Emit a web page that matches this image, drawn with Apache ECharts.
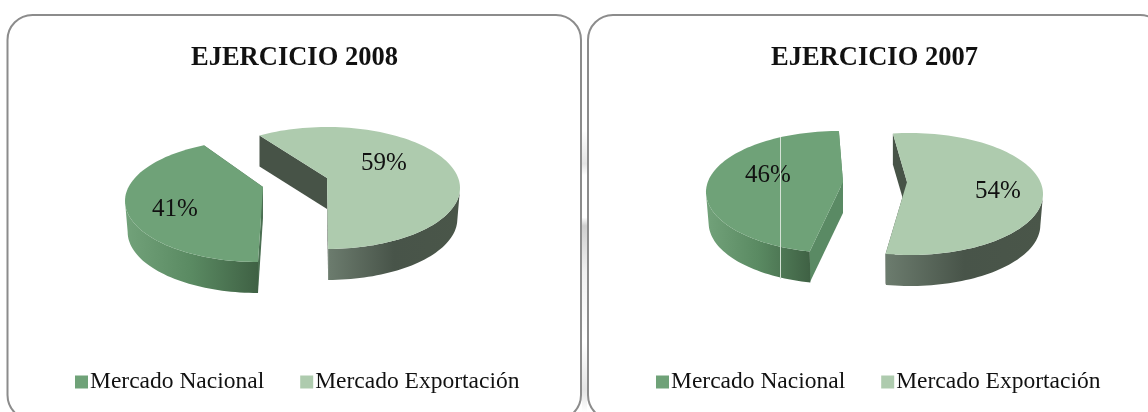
<!DOCTYPE html>
<html>
<head>
<meta charset="utf-8">
<style>
  html, body { margin: 0; padding: 0; background: #fff; }
  #chart { width: 1148px; height: 412px; }
</style>
<script src="https://cdn.jsdelivr.net/npm/echarts@6/dist/echarts.min.js"></script>
</head>
<body>
<div id="chart"></div>
<script>
// datos
var seriesNames = ["Mercado Nacional", "Mercado Exportación"];
var titles = ["EJERCICIO 2008", "EJERCICIO 2007"];
var shares2008 = [41, 59];
var shares2007 = [46, 54];

var serifFont = '"Liberation Serif", serif';
var topColors = ["#6fa278", "#aecbae"];

// geometria de cada porcion: elipse, vertice del corte, angulo inicial, ajuste de perspectiva
var sliceLayouts = [
  { cx: 258, cy: 201, ax: 263, ay: 187, start: 90, gain: 1.057, lx: 175, ly: 209,
    wall: ["#72a27a", "#5a8a62", "#3f6144"], cut: "#4b6f52" },
  { cx: 327, cy: 188, ax: 327, ay: 178, start: -120.5, gain: 0.991, lx: 384, ly: 163,
    wall: ["#6c7c6e", "#485449", "#4a5649"], cut: "#475347" },
  { cx: 839, cy: 192, ax: 843, ay: 182, start: 102.7, gain: 1.01, lx: 768, ly: 175,
    wall: ["#72a27a", "#5a8a62", "#3f6144"], cut: "#5a8a64" },
  { cx: 910, cy: 194, ax: 907, ay: 182, start: -97.4, gain: 1.023, lx: 998, ly: 191,
    wall: ["#6c7c6e", "#485449", "#4a5649"], cut: "#475347" }
];
var radiusX = 133;
var radiusY = 61;
var depth = 31;

function ellipsePoint(lay, deg, dy, scale) {
  var t = deg * Math.PI / 180;
  return [lay.cx + radiusX * scale * Math.cos(t), lay.cy + dy + radiusY * Math.sin(t)];
}

function sideFace(a, b, fill) {
  return {
    type: "polygon",
    shape: { points: [a, b, [b[0], b[1] + depth], [a[0], a[1] + depth]] },
    style: { fill: fill }
  };
}

function renderSlice(lay, color) {
  return function (params, api) {
    var value = api.value(0);
    var sweep = value * 3.6 * lay.gain;
    var end = lay.start + sweep;
    var apex = [lay.ax, lay.ay];
    var arc = [];
    var wallTop = [];
    var wallBottom = [];
    for (var d = lay.start; d < end + 1; d += 2) {
      var deg = Math.min(d, end);
      arc.push(ellipsePoint(lay, deg, 0, 1));
      if (Math.sin(deg * Math.PI / 180) >= -0.001) {
        wallTop.push(ellipsePoint(lay, deg, 0, 1));
        wallBottom.unshift(ellipsePoint(lay, deg, depth, 0.98));
      }
    }
    var first = arc[0];
    var last = arc[arc.length - 1];
    return {
      type: "group",
      children: [
        sideFace(first, apex, lay.cut),
        sideFace(apex, last, lay.cut),
        {
          type: "polygon",
          shape: { points: wallTop.concat(wallBottom) },
          style: {
            fill: new echarts.graphic.LinearGradient(0, 0, 1, 0, [
              { offset: 0, color: lay.wall[0] },
              { offset: 0.5, color: lay.wall[1] },
              { offset: 1, color: lay.wall[2] }
            ])
          }
        },
        {
          type: "polygon",
          shape: { points: arc.concat([apex]) },
          style: { fill: color }
        },
        {
          type: "text",
          x: lay.lx,
          y: lay.ly,
          style: {
            text: value + "%",
            fill: "#111",
            font: "25px " + serifFont,
            textAlign: "center",
            textVerticalAlign: "middle"
          }
        }
      ]
    };
  };
}

function sliceSeries(index, shareIndex, value) {
  return {
    type: "custom",
    name: seriesNames[shareIndex],
    coordinateSystem: "none",
    silent: true,
    itemStyle: { color: topColors[shareIndex] },
    data: [[value]],
    renderItem: renderSlice(sliceLayouts[index], topColors[shareIndex])
  };
}

function panelFrame(x, width) {
  return {
    type: "rect",
    shape: { x: x, y: 15, width: width, height: 405, r: 25 },
    style: { fill: "transparent", stroke: "#8c8c8c", lineWidth: 2 },
    silent: true
  };
}

var legendBase = {
  data: seriesNames,
  top: 365,
  icon: "rect",
  itemWidth: 13,
  itemHeight: 13,
  itemGap: 36,
  selectedMode: false,
  textStyle: { fontFamily: serifFont, fontSize: 23.5, color: "#111", padding: [0, 0, 0, -3] }
};

var titleFont = { fontFamily: serifFont, fontWeight: "bold", fontSize: 26.5, color: "#111" };

var chart = echarts.init(document.getElementById("chart"));
chart.setOption({
  backgroundColor: "#fff",
  animation: false,
  title: [
    { text: titles[0], left: 186, top: 40, textStyle: titleFont },
    { text: titles[1], left: 766, top: 40, textStyle: titleFont }
  ],
  legend: [
    Object.assign({ left: 70 }, legendBase),
    Object.assign({ left: 651 }, legendBase)
  ],
  graphic: [
    panelFrame(7.5, 573.5),
    panelFrame(588, 577),
    {
      type: "rect",
      shape: { x: 582, y: 130, width: 5, height: 282 },
      silent: true,
      style: {
        fill: new echarts.graphic.LinearGradient(0, 0, 0, 1, [
          { offset: 0, color: "#fff" },
          { offset: 0.12, color: "#e4e4e4" },
          { offset: 0.16, color: "#fff" },
          { offset: 0.31, color: "#fff" },
          { offset: 0.34, color: "#cfcfcf" },
          { offset: 0.5, color: "#f0f0f0" },
          { offset: 0.75, color: "#fff" },
          { offset: 0.92, color: "#e4e4e4" },
          { offset: 1, color: "#fff" }
        ])
      }
    },
    // linea clara que cruza la porcion nacional de 2007
    {
      type: "line",
      z: 10,
      silent: true,
      shape: { x1: 780.5, y1: 137, x2: 780.5, y2: 279 },
      style: { stroke: "#d5e2d6", lineWidth: 1 }
    }
  ],
  series: [
    sliceSeries(0, 0, shares2008[0]),
    sliceSeries(1, 1, shares2008[1]),
    sliceSeries(2, 0, shares2007[0]),
    sliceSeries(3, 1, shares2007[1])
  ]
});
</script>
</body>
</html>
